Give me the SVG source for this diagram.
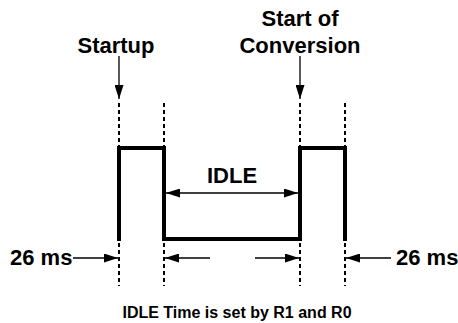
<svg xmlns="http://www.w3.org/2000/svg" width="458" height="323" viewBox="0 0 458 323">
  <style>
    .lbl { font-family: "Liberation Sans", Arial, sans-serif; font-weight: bold; font-size: 22px; fill: #000; }
    .cap { font-family: "Liberation Sans", Arial, sans-serif; font-weight: bold; font-size: 16px; fill: #000; }
    .dot { stroke: #000; stroke-width: 2; stroke-dasharray: 4 3; fill: none; }
    .wave { stroke: #000; stroke-width: 4; fill: none; stroke-linejoin: miter; }
    .arr { stroke: #000; stroke-width: 1.3; fill: none; }
  </style>
  <defs>
    <marker id="ah" viewBox="0 0 14 9" refX="14" refY="4.5" markerWidth="14" markerHeight="9" markerUnits="userSpaceOnUse" orient="auto">
      <path d="M0,0 L14,4.5 L0,9 Z" fill="#000"/>
    </marker>
  </defs>
  <rect width="458" height="323" fill="#fff"/>

  <g id="waveform">
    <path class="wave" d="M119,241 V148 H164 V239 H300 V148 H345 V241"/>
  </g>

  <g id="guides">
    <line class="dot" x1="119" y1="103" x2="119" y2="146"/>
    <line class="dot" x1="164" y1="103" x2="164" y2="146"/>
    <line class="dot" x1="300" y1="103" x2="300" y2="146"/>
    <line class="dot" x1="345" y1="103" x2="345" y2="146"/>
    <line class="dot" x1="119" y1="243" x2="119" y2="286"/>
    <line class="dot" x1="164" y1="243" x2="164" y2="286"/>
    <line class="dot" x1="300" y1="243" x2="300" y2="286"/>
    <line class="dot" x1="345" y1="243" x2="345" y2="286"/>
  </g>

  <g id="startup">
    <text class="lbl" x="116" y="53" text-anchor="middle">Startup</text>
  </g>
  <g id="start-of-conversion">
    <text class="lbl" x="300" y="26" text-anchor="middle">Start of</text>
    <text class="lbl" x="300" y="53" text-anchor="middle">Conversion</text>
  </g>
  <g id="idle">
    <text class="lbl" x="232" y="183" text-anchor="middle">IDLE</text>
  </g>
  <g id="left-26ms">
    <text class="lbl" x="10" y="265">26 ms</text>
  </g>
  <g id="right-26ms">
    <text class="lbl" x="396" y="265">26 ms</text>
  </g>
  <g id="caption">
    <text class="cap" x="237" y="318" text-anchor="middle">IDLE Time is set by R1 and R0</text>
  </g>

  <g id="connectors">
    <line class="arr" x1="119" y1="56" x2="119" y2="99" marker-end="url(#ah)"/>
    <line class="arr" x1="300" y1="56" x2="300" y2="99" marker-end="url(#ah)"/>
    <line class="arr" x1="232" y1="193" x2="166" y2="193" marker-end="url(#ah)"/>
    <line class="arr" x1="232" y1="193" x2="298" y2="193" marker-end="url(#ah)"/>
    <line class="arr" x1="73" y1="258" x2="118" y2="258" marker-end="url(#ah)"/>
    <line class="arr" x1="210" y1="258" x2="165" y2="258" marker-end="url(#ah)"/>
    <line class="arr" x1="255" y1="258" x2="299" y2="258" marker-end="url(#ah)"/>
    <line class="arr" x1="391" y1="258" x2="346" y2="258" marker-end="url(#ah)"/>
  </g>
</svg>
